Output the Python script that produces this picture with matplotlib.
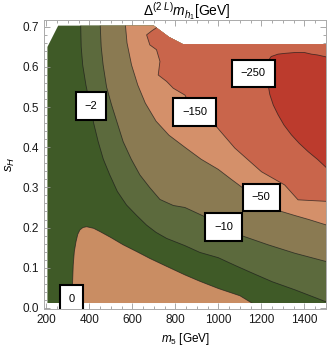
import numpy as np
import matplotlib
matplotlib.use('Agg')
import matplotlib.pyplot as plt
from matplotlib.patches import Polygon
from matplotlib.ticker import MultipleLocator, FormatStrFormatter

plt.rcParams['font.family'] = ['Liberation Sans', 'DejaVu Sans']
plt.rcParams['mathtext.fontset'] = 'custom'
plt.rcParams['mathtext.rm'] = 'Liberation Sans'
plt.rcParams['mathtext.it'] = 'Liberation Sans:italic'

# scanned region (m5 [GeV], sH)
dom_m5 = [205, 1500, 1500, 835, 770, 745, 700, 255, 205]
dom_sh = [0.012, 0.012, 0.657, 0.657, 0.675, 0.685, 0.703, 0.703, 0.65]

# contour lines
c0_m5 = [320, 321, 325, 330, 338, 346, 356, 370, 387, 420, 449, 500, 557, 620, 681, 760, 844, 914, 1000, 1100, 1192]
c0_sh = [0.0, 0.05, 0.107, 0.14, 0.165, 0.183, 0.194, 0.2, 0.202, 0.198, 0.19, 0.175, 0.157, 0.14, 0.123, 0.103, 0.082, 0.066, 0.048, 0.03, 0.0]

c2_m5 = [359, 362, 369, 384, 403, 420, 441, 465, 495, 530, 573, 620, 666, 710, 759, 844, 914, 999, 1080, 1160, 1250, 1355, 1510]
c2_sh = [0.72, 0.65, 0.605, 0.555, 0.506, 0.46, 0.414, 0.37, 0.331, 0.29, 0.256, 0.23, 0.206, 0.188, 0.173, 0.155, 0.138, 0.125, 0.105, 0.086, 0.065, 0.045, 0.013]

c10_m5 = [449, 455, 464, 480, 503, 530, 557, 595, 635, 680, 728, 790, 844, 945, 1025, 1107, 1231, 1355, 1510]
c10_sh = [0.72, 0.65, 0.605, 0.55, 0.506, 0.46, 0.414, 0.37, 0.331, 0.30, 0.27, 0.255, 0.25, 0.225, 0.20, 0.18, 0.157, 0.136, 0.114]

c50_m5 = [565, 575, 596, 625, 660, 710, 770, 844, 920, 999, 1060, 1123, 1200, 1293, 1355, 1420, 1510]
c50_sh = [0.72, 0.66, 0.605, 0.555, 0.51, 0.465, 0.43, 0.40, 0.37, 0.345, 0.32, 0.295, 0.27, 0.24, 0.23, 0.22, 0.205]

c150_m5 = [712, 712, 690, 666, 681, 712, 728, 720, 759, 790, 844, 890, 983, 1076, 1200, 1308, 1370, 1510]
c150_sh = [0.72, 0.698, 0.69, 0.68, 0.655, 0.643, 0.614, 0.58, 0.564, 0.547, 0.53, 0.487, 0.456, 0.398, 0.339, 0.306, 0.269, 0.265]

c250_m5 = [1510, 1460, 1432, 1400, 1355, 1310, 1277, 1245, 1231, 1239, 1228, 1231, 1239, 1255, 1277, 1305, 1339, 1375, 1417, 1460, 1510]
c250_sh = [0.624, 0.63, 0.632, 0.636, 0.636, 0.634, 0.632, 0.626, 0.615, 0.597, 0.575, 0.555, 0.531, 0.505, 0.481, 0.455, 0.431, 0.41, 0.389, 0.37, 0.345]

levels = ['0', '\u22122', '\u221210', '\u221250', '\u2212150', '\u2212250']
lab_m5 = [317, 407, 1025, 1199, 890, 1162]
lab_sh = [0.022, 0.502, 0.202, 0.275, 0.487, 0.584]

col_base = '#3f5a27'   # -2 .. 0
col_pos = '#c98d63'    # > 0
col_2 = '#5c6a3d'
col_10 = '#8a7a52'
col_50 = '#d4906a'
col_150 = '#c9654b'
col_250 = '#bc3b2d'

fig = plt.figure(figsize=(3.32, 3.48), dpi=100)
ax = fig.add_axes([0.1325, 0.112, 0.8494, 0.8305])

dom = Polygon(np.column_stack([dom_m5, dom_sh]), closed=True, fc=col_base, ec='none', zorder=1)
ax.add_patch(dom)

def band(xs, ys, color):
    pts = list(zip(xs, ys)) + [(1700, ys[-1]), (1700, 0.9), (xs[0], 0.9)]
    p = Polygon(pts, closed=True, fc=color, ec='none', zorder=2)
    ax.add_patch(p)
    p.set_clip_path(dom)

p0 = Polygon(np.column_stack([c0_m5, c0_sh]), closed=True, fc=col_pos, ec='none', zorder=2)
ax.add_patch(p0)
p0.set_clip_path(dom)
band(c2_m5, c2_sh, col_2)
band(c10_m5, c10_sh, col_10)
band(c50_m5, c50_sh, col_50)
band(c150_m5, c150_sh, col_150)
pts = list(zip(c250_m5, c250_sh)) + [(1700, c250_sh[-1]), (1700, c250_sh[0])]
p250 = Polygon(pts, closed=True, fc=col_250, ec='none', zorder=2)
ax.add_patch(p250)
p250.set_clip_path(dom)

for xs, ys in [(c0_m5, c0_sh), (c2_m5, c2_sh), (c10_m5, c10_sh), (c50_m5, c50_sh),
               (c150_m5, c150_sh), (c250_m5, c250_sh)]:
    ln, = ax.plot(xs, ys, color='#1a1a1a', lw=0.6, alpha=0.7, zorder=3)
    ln.set_clip_path(dom)

for s, x, y in zip(levels, lab_m5, lab_sh):
    ax.text(x, y, s, ha='center', va='center', fontsize=8, zorder=5, clip_on=True,
            bbox=dict(boxstyle='square,pad=0.8', fc='white', ec='black', lw=1.5))

ax.set_xlim(189, 1500)
ax.set_ylim(-0.003, 0.717)
ax.xaxis.set_major_locator(MultipleLocator(200))
ax.xaxis.set_minor_locator(MultipleLocator(50))
ax.yaxis.set_major_locator(MultipleLocator(0.1))
ax.yaxis.set_minor_locator(MultipleLocator(0.02))
ax.yaxis.set_major_formatter(FormatStrFormatter('%.1f'))
ax.tick_params(which='both', direction='in', top=True, right=True, color='#9a9a9a', labelsize=8.5, labelcolor='#1a1a1a', width=0.6)
ax.tick_params(which='major', length=4)
ax.tick_params(which='minor', length=2)
for sp in ax.spines.values():
    sp.set_color('#aaaaaa')
    sp.set_linewidth(0.7)

fig.text(187/332, 1 - 11/348, r'$\Delta^{(2\ L)}m_{h_1}$[GeV]', ha='center', va='center', fontsize=10)
fig.text(186/332, 1 - 339/348, r'$m_5$ [GeV]', ha='center', va='center', fontsize=8.5)
fig.text(10/332, 1 - 164/348, r'$s_H$', ha='center', va='center', fontsize=9.5, rotation=90)

fig.savefig('out.png', dpi=100)
